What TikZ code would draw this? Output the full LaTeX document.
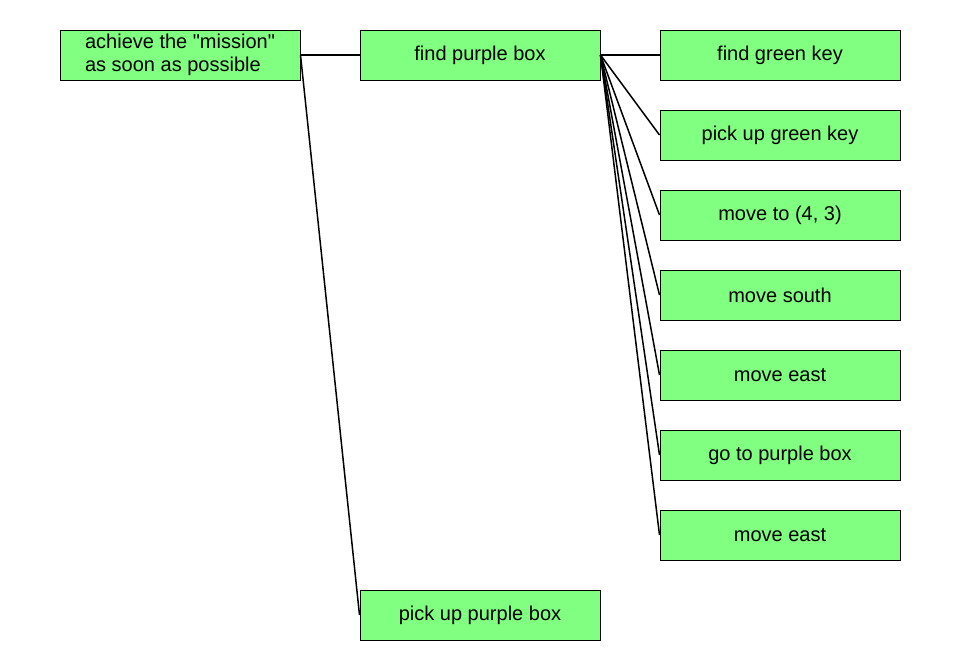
\documentclass[tikz,border=0pt]{standalone}
\usepackage{fontspec}
\setmainfont{Liberation Sans}[Ligatures=TeXOff]
\definecolor{boxgreen}{RGB}{128,255,128}
\begin{document}
\begin{tikzpicture}[x=1pt,y=-1pt,
  box/.style={draw=black, line width=1pt, fill=boxgreen,
    minimum width=240pt, minimum height=50pt, inner sep=0pt,
    font=\fontsize{20}{23}\selectfont},
  link/.style={line width=1.5pt}]
\useasboundingbox[fill=white] (0,0) rectangle (960,670);

% task tree
\node[box, align=left] (root) at (180,55) {achieve the "mission"\\as soon as possible};
\node[box] (find) at (480,55) {find purple box};
\node[box] (pick) at (480,615) {pick up purple box};

\node[box] (c1) at (780,55)  {find green key};
\node[box] (c2) at (780,135) {pick up green key};
\node[box] (c3) at (780,215) {move to (4, 3)};
\node[box] (c4) at (780,295) {move south};
\node[box] (c5) at (780,375) {move east};
\node[box] (c6) at (780,455) {go to purple box};
\node[box] (c7) at (780,535) {move east};

% connectors from each parent to its subtasks
\draw[link] (root.east) -- (find.west);
\draw[link] (root.east) -- (pick.west);
\foreach \c in {c1,c2,c3,c4,c5,c6,c7}
  \draw[link] (find.east) -- (\c.west);
\end{tikzpicture}
\end{document}
